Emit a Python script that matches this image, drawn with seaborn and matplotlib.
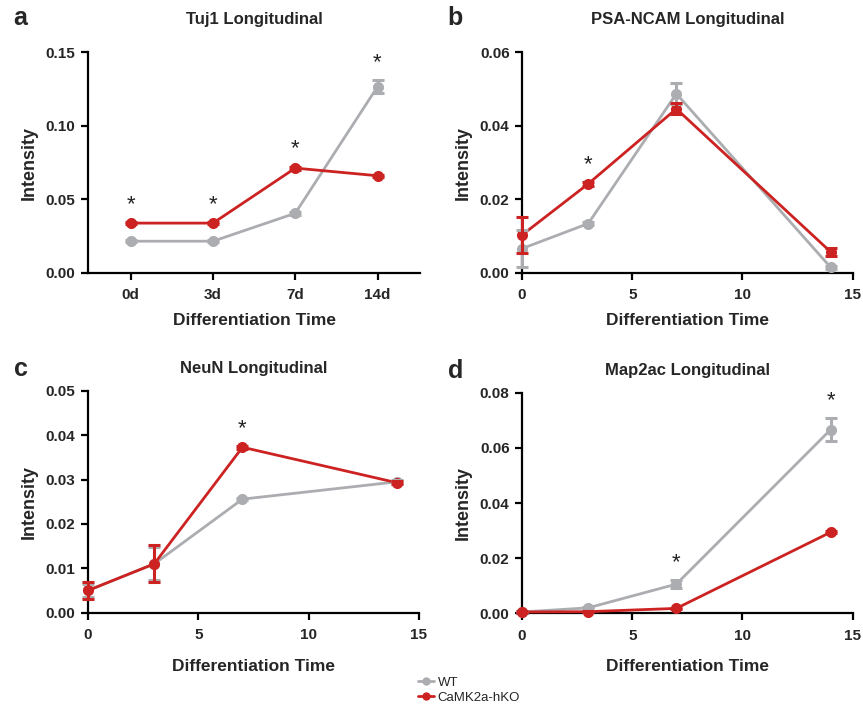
import numpy as np
import pandas as pd
import seaborn as sns
from matplotlib import pyplot as plt
from matplotlib.lines import Line2D

sns.set_style("ticks")
plt.rcParams['font.family'] = ['Liberation Sans', 'DejaVu Sans']

#%%
# values (mean, error)
days = [0, 3, 7, 14]
day_labels = ['0d', '3d', '7d', '14d']
groups = ['WT', 'CaMK2a-hKO']

tuj1_wt = [0.0215, 0.0215, 0.0405, 0.1265]
tuj1_wt_err = [0.0008, 0.0008, 0.0010, 0.0045]
tuj1_ko = [0.0338, 0.0338, 0.0712, 0.0660]
tuj1_ko_err = [0.0008, 0.0008, 0.0010, 0.0008]

psa_wt = [0.0066, 0.0134, 0.0487, 0.0015]
psa_wt_err = [0.0050, 0.0005, 0.0028, 0.0004]
psa_ko = [0.0103, 0.0242, 0.0446, 0.0057]
psa_ko_err = [0.0050, 0.0005, 0.0015, 0.0010]

neun_wt = [0.0050, 0.0110, 0.0256, 0.0295]
neun_wt_err = [0.0015, 0.0037, 0.0003, 0.0003]
neun_ko = [0.0050, 0.0110, 0.0373, 0.0293]
neun_ko_err = [0.0020, 0.0042, 0.0003, 0.0003]

map2_wt = [0.0005, 0.0020, 0.0106, 0.0666]
map2_wt_err = [0.0003, 0.0004, 0.0015, 0.0042]
map2_ko = [0.0005, 0.0006, 0.0018, 0.0294]
map2_ko_err = [0.0002, 0.0002, 0.0003, 0.0004]

# significance stars: (group, index of time point)
tuj1_stars = [('CaMK2a-hKO', 0), ('CaMK2a-hKO', 1), ('CaMK2a-hKO', 2), ('WT', 3)]
psa_stars = [('CaMK2a-hKO', 1)]
neun_stars = [('CaMK2a-hKO', 2)]
map2_stars = [('WT', 2), ('WT', 3)]

palette = {'WT': '#abadb0', 'CaMK2a-hKO': '#cc2222'}

#%%
fig = plt.figure(figsize=(8.63, 7.05), dpi=100)
ax_a = fig.add_axes([0.102, 0.613, 0.385, 0.313])
ax_b = fig.add_axes([0.605, 0.613, 0.383, 0.313])
ax_c = fig.add_axes([0.102, 0.131, 0.3835, 0.3145])
ax_d = fig.add_axes([0.605, 0.130, 0.383, 0.313])

panels = [
    (ax_a, 'a', 'Tuj1 Longitudinal', tuj1_wt, tuj1_wt_err, tuj1_ko, tuj1_ko_err, tuj1_stars, 0.15, 0.05),
    (ax_b, 'b', 'PSA-NCAM Longitudinal', psa_wt, psa_wt_err, psa_ko, psa_ko_err, psa_stars, 0.06, 0.02),
    (ax_c, 'c', 'NeuN Longitudinal', neun_wt, neun_wt_err, neun_ko, neun_ko_err, neun_stars, 0.05, 0.01),
    (ax_d, 'd', 'Map2ac Longitudinal', map2_wt, map2_wt_err, map2_ko, map2_ko_err, map2_stars, 0.08, 0.02),
]

for ax, letter, title, wt, wt_err, ko, ko_err, stars, ymax, ystep in panels:
    categorical = letter == 'a'
    top_row = letter in 'ab'
    xs = list(range(len(days))) if categorical else days
    df = pd.DataFrame({
        'time': xs * 2,
        'Intensity': wt + ko,
        'err': wt_err + ko_err,
        'group': ['WT'] * len(days) + ['CaMK2a-hKO'] * len(days),
    })
    sns.lineplot(data=df, x='time', y='Intensity', hue='group', hue_order=groups,
                 palette=palette, marker='o', markersize=8, markeredgewidth=0,
                 linewidth=2, legend=False, ax=ax, clip_on=False, zorder=3)
    for g in groups:
        sub = df[df['group'] == g]
        ax.errorbar(sub['time'], sub['Intensity'], yerr=sub['err'], fmt='none',
                    ecolor=palette[g], elinewidth=2.2, capsize=4.5, capthick=2.2,
                    clip_on=False, zorder=3)
    for g, i in stars:
        sub = df[df['group'] == g].reset_index(drop=True)
        ax.annotate('*', (sub.loc[i, 'time'], sub.loc[i, 'Intensity'] + sub.loc[i, 'err']),
                    xytext=(0, 7), textcoords='offset pixels', ha='center', va='bottom',
                    fontsize=16, color='#222222')

    ax.set_ylim(0, ymax)
    ax.set_yticks(np.arange(0, ymax + ystep / 2, ystep))
    ax.set_yticklabels([f'{v:.2f}' for v in np.arange(0, ymax + ystep / 2, ystep)])
    if categorical:
        ax.set_xlim(-0.52, 3.52)
        ax.set_xticks(xs)
        ax.set_xticklabels(day_labels)
    else:
        ax.set_xlim(0, 15)
        ax.set_xticks([0, 5, 10, 15])

    sns.despine(ax=ax)
    for s in ['left', 'bottom']:
        ax.spines[s].set_linewidth(1.6)
        ax.spines[s].set_color('black')
    ax.tick_params(width=1.6, length=5, color='black', labelsize=11, pad=4)
    ax.tick_params(axis='x', pad=6)
    for lbl in ax.get_xticklabels() + ax.get_yticklabels():
        lbl.set_fontweight('bold')

    ax.set_ylabel('Intensity', fontsize=13, fontweight='bold', labelpad=6)
    ax.set_xlabel('Differentiation Time', fontsize=12.5, fontweight='bold',
                  labelpad=8 if top_row else 12)
    ax.set_title(title, fontsize=12, fontweight='bold', pad=20 if top_row else 13)
    ax.text(-0.225, 1.155 if top_row else 1.10, letter, transform=ax.transAxes,
            fontsize=18, fontweight='bold', ha='left', va='center')

handles = [Line2D([0], [0], color=palette[g], marker='o', markersize=6, markeredgewidth=0,
                  linewidth=2) for g in groups]
fig.legend(handles, groups, loc='center left', bbox_to_anchor=(0.478, 0.021),
           frameon=False, fontsize=9.5, handlelength=1.2, handletextpad=0.3,
           labelspacing=0.25, borderaxespad=0)

fig.savefig('out.png', dpi=100, facecolor='white')
